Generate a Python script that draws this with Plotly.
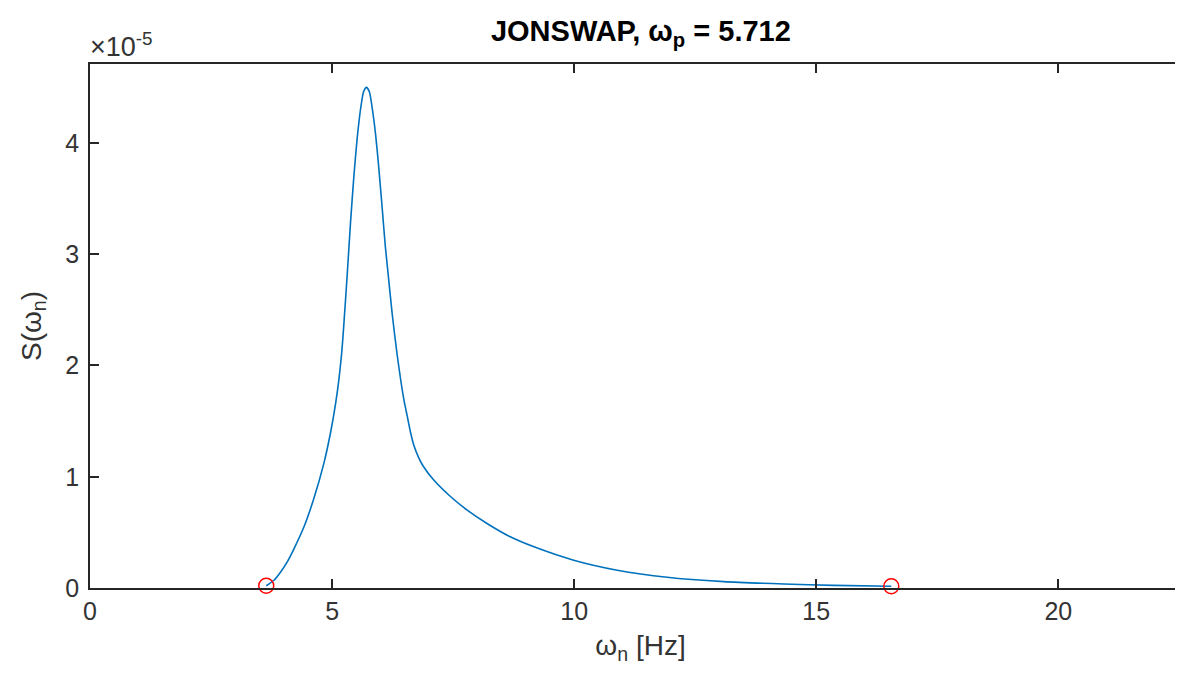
import plotly.graph_objects as go

SCALE = 1e-5
omega = [3.64, 3.80, 3.93, 4.08, 4.21, 4.42, 4.62, 4.83, 4.97, 5.07, 5.14, 5.20, 5.24, 5.31,
         5.38, 5.45, 5.52, 5.59, 5.65, 5.71, 5.77, 5.83, 5.90, 5.96, 6.03, 6.10, 6.17, 6.24,
         6.34, 6.48, 6.55, 6.62, 6.69, 6.79, 6.89, 7.10, 7.45, 7.79, 8.20, 8.68, 9.17, 9.99,
         10.89, 11.92, 13.09, 14.33, 15.36, 16.55]
S_e5 = [0.02, 0.07, 0.14, 0.24, 0.35, 0.55, 0.80, 1.12, 1.40, 1.65, 1.87, 2.12, 2.35, 2.80,
        3.28, 3.70, 4.05, 4.31, 4.46, 4.50, 4.46, 4.31, 4.07, 3.80, 3.44, 3.07, 2.77, 2.47,
        2.11, 1.70, 1.55, 1.40, 1.28, 1.17, 1.09, 0.97, 0.82, 0.70, 0.58, 0.46, 0.37, 0.25,
        0.16, 0.096, 0.057, 0.036, 0.024, 0.016]
marker_omega = [3.64, 16.55]
marker_S_e5 = [0.02, 0.016]
x_ticks = [0, 5, 10, 15, 20]
y_ticks = [0, 1, 2, 3, 4]

S = [v * SCALE for v in S_e5]
mS = [v * SCALE for v in marker_S_e5]

AX = "#262626"
TXT = "#333333"
FONT = "Liberation Sans, Arial, sans-serif"

fig = go.Figure()
fig.add_trace(go.Scatter(x=omega, y=S, mode="lines", line=dict(color="#0072BD", width=1.6),
                         line_shape="spline", line_smoothing=0.6, showlegend=False))
fig.add_trace(go.Scatter(x=marker_omega, y=mS, mode="markers",
                         marker=dict(symbol="circle-open", size=15, color="#FF0000",
                                     line=dict(width=1.5, color="#FF0000")),
                         showlegend=False, cliponaxis=False))

fig.update_layout(
    width=1183, height=678,
    margin=dict(l=82, r=0, t=56, b=98),
    paper_bgcolor="white", plot_bgcolor="white",
    font=dict(family=FONT, size=25, color=TXT),
    title=dict(text="<b>JONSWAP, ω<sub>p</sub> = 5.712</b>", x=0.535, xanchor="center",
               y=0.967, yanchor="middle", font=dict(size=29, color="#000000")),
    xaxis=dict(range=[0, 22.74], tickvals=x_ticks, ticktext=[str(t) for t in x_ticks],
               ticks="inside", ticklen=9, tickwidth=1.5, tickcolor=AX,
               showline=True, linecolor=AX, linewidth=1.5, mirror="ticks",
               showgrid=False, zeroline=False, automargin=False,
               tickfont=dict(size=25, color=TXT),
               title=dict(text="ω<sub>n</sub> [Hz]", standoff=12, font=dict(size=28, color=TXT))),
    yaxis=dict(range=[0, 4.71e-5], tickvals=[t * SCALE for t in y_ticks],
               ticktext=[str(t) for t in y_ticks],
               ticks="inside", ticklen=9, tickwidth=1.5, tickcolor=AX,
               showline=True, linecolor=AX, linewidth=1.5, mirror=False,
               showgrid=False, zeroline=False, automargin=False,
               ticklabelstandoff=4, tickfont=dict(size=25, color=TXT),
               title=dict(text="S(ω<sub>n</sub>)", standoff=16, font=dict(size=28, color=TXT))),
)
fig.add_annotation(text="×10<sup>-5</sup>", xref="paper", yref="paper", x=0, y=1.0,
                   xanchor="left", yanchor="bottom", showarrow=False,
                   font=dict(size=27, color=TXT), xshift=-2, yshift=0)

fig.write_html("out.html")
